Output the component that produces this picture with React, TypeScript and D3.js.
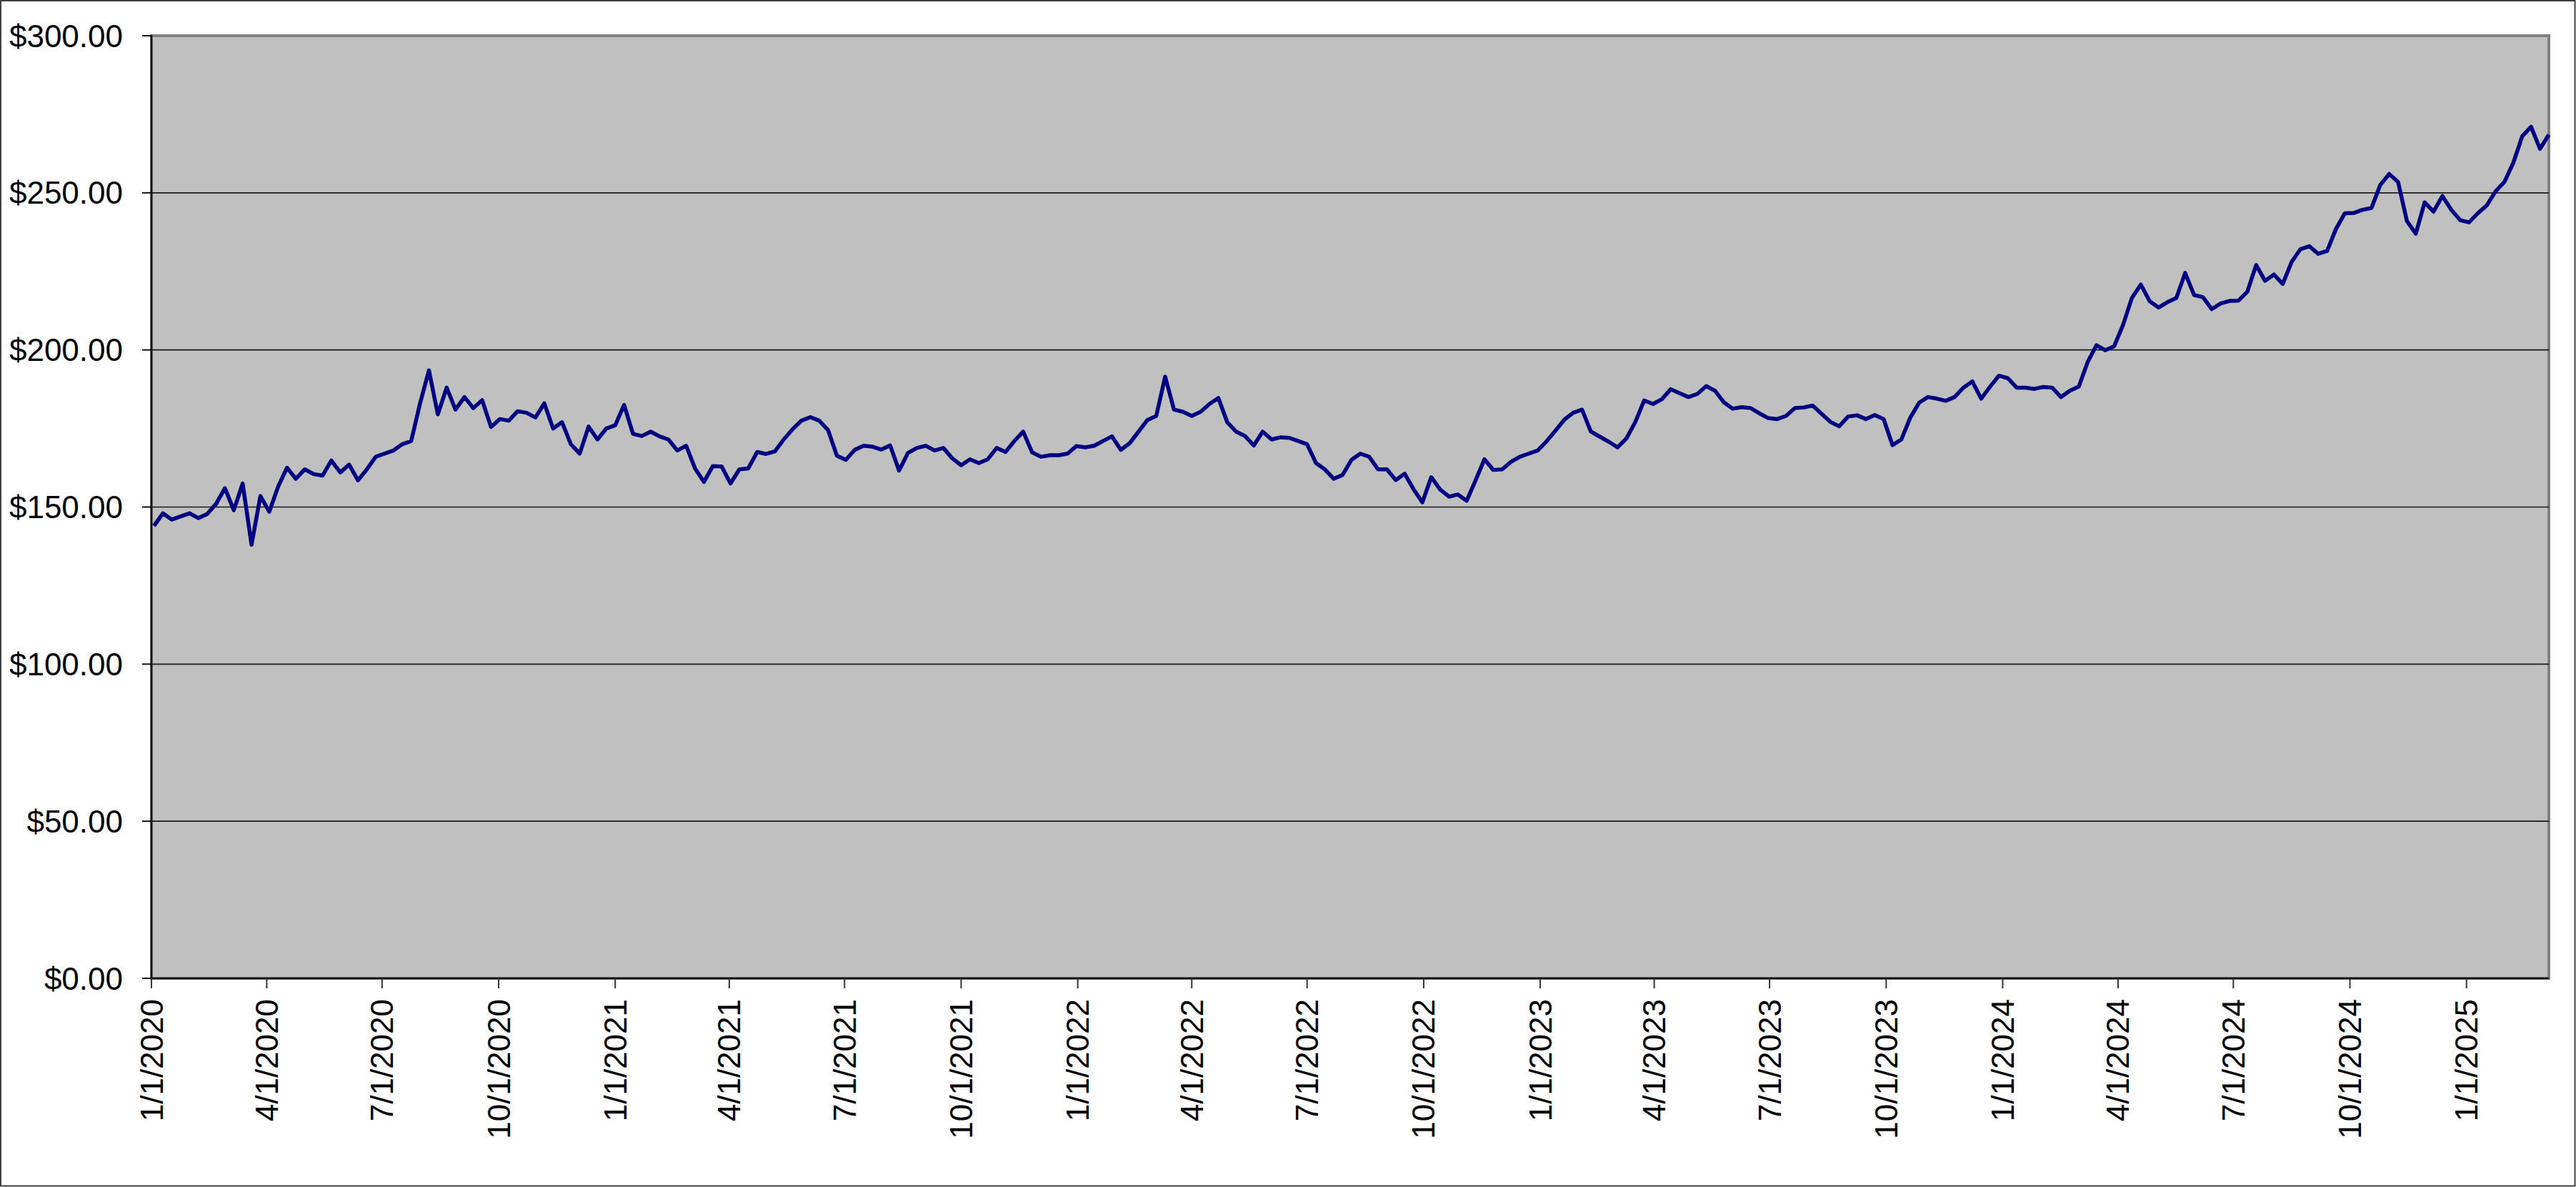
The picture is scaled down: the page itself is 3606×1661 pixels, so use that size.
import * as d3 from 'd3'

// weekly closes (Fridays)
const prices2020 = [
	144, 148, 146, 147, 148, 146.5, 147.8, 151, 156, 149, 157.5, 138, 153.5, 148.5, 156.5, 162.5, 159, 162, 160.5,
	160, 164.8, 161, 163.5, 158.5, 162, 166, 167, 168, 170, 171, 183, 193.5, 179.5, 188, 181, 185, 181.5, 184, 175.5,
	178, 177.5, 180.5, 180, 178.5, 183, 175, 177, 170, 167, 175.6, 171.5, 175,
]
const prices2021 = [
	176, 182.5, 173.3, 172.6, 174, 172.5, 171.5, 168, 169.5, 162.3, 158, 163, 162.9, 157.5, 162, 162.3, 167.5, 166.9,
	167.7, 171.5, 174.8, 177.5, 178.6, 177.5, 174.5, 166.3, 165, 168.2, 169.5, 169.2, 168.3, 169.6, 161.6, 167.2, 168.8,
	169.5, 168, 168.8, 165.5, 163.3, 165.2, 164, 165.2, 168.8, 167.5, 171, 174, 167.4, 166, 166.5, 166.5, 167, 169.4,
]
const prices2022 = [
	169, 169.5, 171, 172.5, 168.2, 170.3, 174, 177.7, 179, 191.5, 181, 180.3, 179, 180.3, 182.8, 184.7, 177, 174, 172.6,
	169.6, 174, 171.5, 172.2, 172, 171, 170, 164, 162, 159, 160.2, 165, 167, 166, 162, 162, 158.6, 160.6, 155.7, 151.5,
	159.5, 155.6, 153.3, 154, 152, 158.5, 165.2, 161.8, 162, 164.4, 166, 167, 168,
]
const prices2023 = [
	170.9, 174.3, 177.8, 180, 181, 174, 172.4, 170.8, 169, 171.8, 177, 183.9, 182.8, 184.3, 187.5, 186.2, 185, 186,
	188.5, 187, 183.3, 181.3, 181.8, 181.5, 179.8, 178.3, 178, 179, 181.5, 181.7, 182.3, 179.7, 177.1, 175.7, 178.8,
	179.2, 178, 179.3, 178, 169.7, 171.5, 178.4, 183.2, 185, 184.5, 183.8, 185, 188, 190, 184.5, 188.3, 191.8,
]
const prices2024 = [
	191, 188, 188, 187.6, 188.2, 188, 185, 187, 188.3, 196.1, 201.5, 199.9, 201.2, 208, 216.6, 220.8, 215.5, 213.5,
	215.2, 216.5, 224.5, 217.5, 216.8, 213, 214.8, 215.6, 215.7, 218.5, 227, 222, 224, 221, 228, 232.1, 233, 230.6,
	231.5, 238.5, 243.5, 243.6, 244.6, 245.2, 252.5, 256, 253.5, 241, 237, 247, 244, 249, 244.6, 241.3,
]
const prices2025 = [240.6, 243.5, 246, 250.5, 253.5, 259.6, 268, 271, 264, 268.5]

const firstWeek = '1/3/2020'
const axisStart = '1/1/2020'
const axisEnd = '3/7/2025'
const dateTicks = [
	'1/1/2020', '4/1/2020', '7/1/2020', '10/1/2020',
	'1/1/2021', '4/1/2021', '7/1/2021', '10/1/2021',
	'1/1/2022', '4/1/2022', '7/1/2022', '10/1/2022',
	'1/1/2023', '4/1/2023', '7/1/2023', '10/1/2023',
	'1/1/2024', '4/1/2024', '7/1/2024', '10/1/2024',
	'1/1/2025',
]
const priceTicks = [0, 50, 100, 150, 200, 250, 300]

const W = 3606
const H = 1661
const plot = { left: 212, top: 50, right: 3568, bottom: 1369 }
const font = '"Liberation Sans", Arial, sans-serif'

export default function App() {
	const parse = d3.timeParse('%m/%d/%Y')
	const closes = [...prices2020, ...prices2021, ...prices2022, ...prices2023, ...prices2024, ...prices2025]
	const start = parse(firstWeek)!
	const dates = closes.map((_, i) => d3.timeDay.offset(start, 7 * i))

	const x = d3
		.scaleTime()
		.domain([parse(axisStart)!, parse(axisEnd)!])
		.range([plot.left, plot.right])
	const y = d3.scaleLinear().domain([0, 300]).range([plot.bottom, plot.top])

	const path = d3
		.line<number>()
		.x((_, i) => x(dates[i]))
		.y((d) => y(d))(closes)

	const money = d3.format('$,.2f')

	return (
		<div style={{ width: W, height: H, overflow: 'hidden' }}>
			<style>{'body{margin:0;overflow:hidden}'}</style>
			<svg width={W} height={H} style={{ display: 'block', fontFamily: font }}>
				<rect x={1} y={1} width={W - 2.5} height={H - 2.5} fill='#fff' stroke='#404040' strokeWidth={2} />

				{/* plot area */}
				<rect
					x={plot.left}
					y={plot.top}
					width={plot.right - plot.left}
					height={plot.bottom - plot.top}
					fill='#C0C0C0'
					stroke='#808080'
					strokeWidth={4}
				/>

				{/* gridlines */}
				{priceTicks
					.filter((t) => t > 0 && t < 300)
					.map((t) => (
						<line key={t} x1={plot.left} x2={plot.right} y1={y(t)} y2={y(t)} stroke='#1a1a1a' strokeWidth={1.6} />
					))}

				{/* axes */}
				<line x1={plot.left} x2={plot.left} y1={plot.top - 1} y2={plot.bottom} stroke='#111' strokeWidth={2.5} />
				<line x1={plot.left} x2={plot.right} y1={plot.bottom} y2={plot.bottom} stroke='#111' strokeWidth={2.5} />

				{priceTicks.map((t) => (
					<g key={t}>
						<line x1={plot.left - 13} x2={plot.left} y1={y(t)} y2={y(t)} stroke='#111' strokeWidth={2} />
						<text x={172} y={y(t)} textAnchor='end' dominantBaseline='central' fontSize={44} fill='#000'>
							{money(t)}
						</text>
					</g>
				))}

				{dateTicks.map((label) => {
					const tx = x(parse(label)!)
					return (
						<g key={label}>
							<line x1={tx} x2={tx} y1={plot.bottom} y2={plot.bottom + 14} stroke='#333' strokeWidth={2} />
							<text
								transform={`translate(${tx},${plot.bottom + 29}) rotate(-90)`}
								textAnchor='end'
								dominantBaseline='central'
								fontSize={44}
								fill='#000'
							>
								{label}
							</text>
						</g>
					)
				})}

				<path d={path ?? ''} fill='none' stroke='#000080' strokeWidth={5.5} strokeLinejoin='round' />
			</svg>
		</div>
	)
}
